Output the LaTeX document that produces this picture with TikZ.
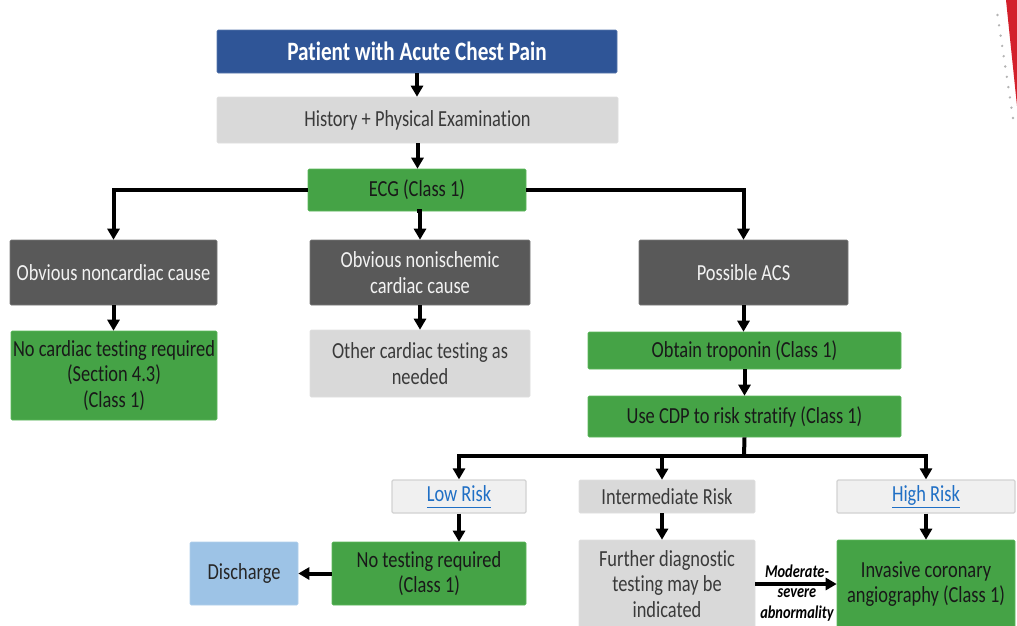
\documentclass[tikz,border=0pt]{standalone}
\usepackage{fontspec}
\setmainfont{Carlito}[FakeStretch=0.8, Ligatures=NoCommon]
\usetikzlibrary{arrows.meta}
\definecolor{titleblue}{HTML}{2F5597}
\definecolor{stepgreen}{HTML}{45A346}
\definecolor{greenedge}{HTML}{5CB85C}
\definecolor{lightgrey}{HTML}{D9D9D9}
\definecolor{darkgrey}{HTML}{595959}
\definecolor{palegrey}{HTML}{F0F0F0}
\definecolor{paleedge}{HTML}{D2D2D2}
\definecolor{skyblue}{HTML}{9DC3E6}
\definecolor{linkblue}{HTML}{1F6FC5}
\definecolor{greytext}{HTML}{3A3A3A}
\definecolor{markred}{HTML}{D3202B}
\definecolor{dotgrey}{HTML}{B4B4B4}
\newcommand{\linktext}[1]{\underline{\vphantom{g}#1}}
\begin{document}
\begin{tikzpicture}[x=1pt,y=-1pt,
  box/.style={rectangle, rounded corners=1.2pt, inner sep=0pt, align=center,
    font=\fontsize{23}{25.5}\selectfont},
  titlebox/.style={box, fill=titleblue, draw=titleblue!80!white, line width=0.6pt,
    text=white, font=\fontsize{26.5}{28}\selectfont\bfseries},
  greenbox/.style={box, fill=stepgreen, draw=greenedge, line width=0.6pt, text=black!90},
  greybox/.style={box, fill=lightgrey, draw=lightgrey!85!white, line width=0.6pt, text=greytext},
  darkbox/.style={box, fill=darkgrey, draw=darkgrey!80!white, line width=0.6pt, text=white!95!black},
  riskbox/.style={box, fill=palegrey, draw=paleedge, line width=1.2pt, text=linkblue},
  bluebox/.style={box, fill=skyblue, draw=skyblue!80!white, line width=0.6pt, text=black!85},
  arr/.style={line width=4pt, -{Triangle[length=11pt,width=12pt]}},
  plain/.style={line width=4pt},
  note/.style={align=center, inner sep=0pt, text=black,
    font=\fontsize{18}{20.5}\selectfont\bfseries\itshape}
]
\useasboundingbox (0,0) rectangle (1017,625);

% corner mark
\fill[markred] (1006,0) -- (1017,0) -- (1017,106) -- cycle;
\foreach \i in {0,...,10}
  \fill[dotgrey] ({997.5+1.55*\i},{15+10.3*\i}) circle (1.3pt);

% boxes
\node[titlebox, minimum width=400pt, minimum height=43pt] (title) at (417,51.5) {Patient with Acute Chest Pain};
\node[greybox, minimum width=401pt, minimum height=46pt] (hist) at (417.5,120) {History + Physical Examination};
\node[greenbox, minimum width=218pt, minimum height=42pt] (ecg) at (417,190) {ECG (Class 1)};

\node[darkbox, minimum width=207pt, minimum height=65pt] (noncard) at (113.5,272.5) {Obvious noncardiac cause};
\node[darkbox, minimum width=220pt, minimum height=65pt] (nonisch) at (420,272.5) {Obvious nonischemic\\cardiac cause};
\node[darkbox, minimum width=209pt, minimum height=65pt] (acs) at (743.5,272.5) {Possible ACS};

\node[greenbox, minimum width=206pt, minimum height=89pt] (notreq) at (114,375.5) {No cardiac testing required\\(Section 4.3)\\(Class 1)};
\node[greybox, minimum width=220pt, minimum height=67pt] (other) at (420,363.5) {Other cardiac testing as\\needed};
\node[greenbox, minimum width=313pt, minimum height=37pt] (trop) at (744.5,350.5) {Obtain troponin (Class 1)};
\node[greenbox, minimum width=313pt, minimum height=41pt] (cdp) at (744.5,416.5) {Use CDP to risk stratify (Class 1)};

\node[riskbox, minimum width=134pt, minimum height=33pt] (low) at (459,496.5) {\linktext{Low Risk}};
\node[greybox, minimum width=176pt, minimum height=33pt] (inter) at (667,496.5) {Intermediate Risk};
\node[riskbox, minimum width=178pt, minimum height=33pt] (high) at (926,496.5) {\linktext{High Risk}};

\node[bluebox, minimum width=108pt, minimum height=63pt] (disch) at (244,573.5) {Discharge};
\node[greenbox, minimum width=194pt, minimum height=63pt] (notest) at (429,573.5) {No testing required\\(Class 1)};
\node[greybox, minimum width=176pt, minimum height=88pt] (further) at (667,584) {Further diagnostic\\testing may be\\indicated};
\node[greenbox, minimum width=178pt, minimum height=88pt] (invas) at (926,584) {Invasive coronary\\angiography (Class 1)};

\node[note] (sev) at (797,593) {Moderate-\\severe\\abnormality};

% connectors
\draw[arr] (title.south) -- (title.south |- hist.north);
\draw[arr] (hist.south) -- (hist.south |- ecg.north);
\draw[arr] (ecg.west) -| (noncard.north);
\draw[arr] (ecg.south) -- (ecg.south -| nonisch.north) -- (nonisch.north);
\draw[arr] (ecg.east) -| (acs.north);

\draw[arr] (noncard.south) -- (noncard.south |- notreq.north);
\draw[arr] (nonisch.south) -- (other.north);
\draw[arr] (acs.south) -- (acs.south |- trop.north);
\draw[arr] (trop.south) -- (cdp.north);

\coordinate (split) at (744,456);
\draw[plain] (cdp.south) -- (split);
\draw[arr] (split) -| (low.north);
\draw[arr] (split) -| ([xshift=-5pt]inter.north);
\draw[arr] (split) -| (high.north);

\draw[arr] (low.south) -- (low.south |- notest.north);
\draw[arr] ([xshift=-5pt]inter.south) -- ([xshift=-5pt]inter.south |- further.north);
\draw[arr] (high.south) -- (invas.north);
\draw[arr] (notest.west) -- (disch.east);
\draw[arr] (further.east) -- (invas.west);
\end{tikzpicture}
\end{document}
